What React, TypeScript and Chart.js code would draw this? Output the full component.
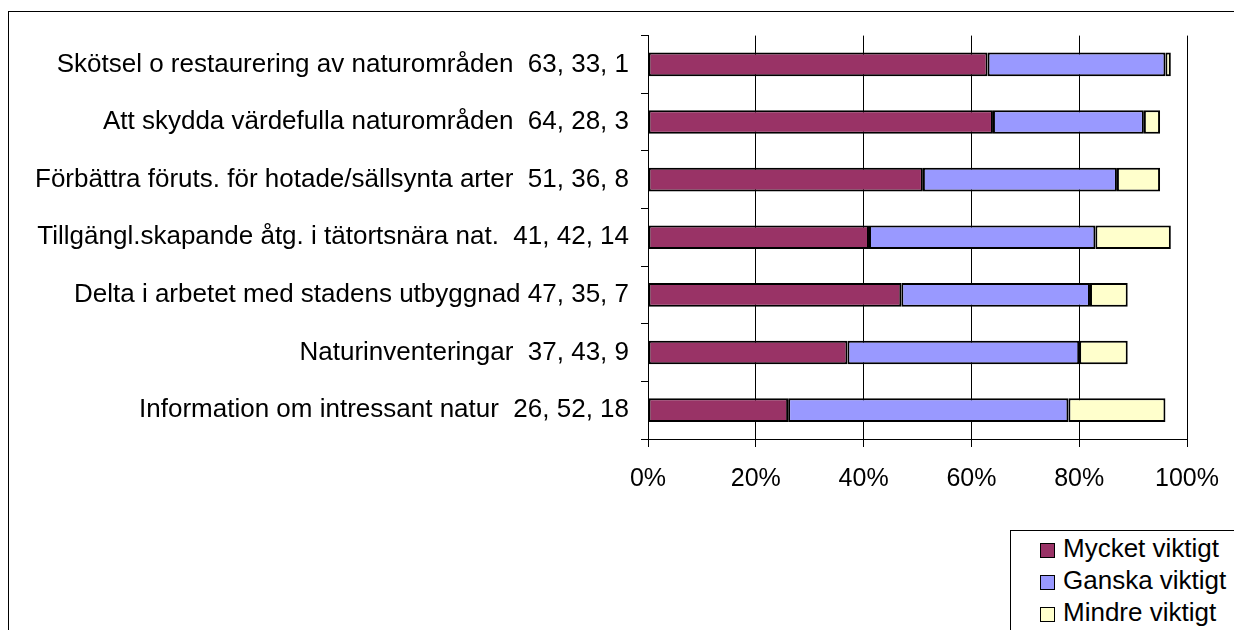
import React, { useEffect, useRef } from "react";
import { Chart, registerables } from "chart.js";

Chart.register(...registerables);

const categories = [
  "Skötsel o restaurering av naturområden  63, 33, 1",
  "Att skydda värdefulla naturområden  64, 28, 3",
  "Förbättra föruts. för hotade/sällsynta arter  51, 36, 8",
  "Tillgängl.skapande åtg. i tätortsnära nat.  41, 42, 14",
  "Delta i arbetet med stadens utbyggnad 47, 35, 7",
  "Naturinventeringar  37, 43, 9",
  "Information om intressant natur  26, 52, 18",
];
const mycketViktigt = [63, 64, 51, 41, 47, 37, 26];
const ganskaViktigt = [33, 28, 36, 42, 35, 43, 52];
const mindreViktigt = [1, 3, 8, 14, 7, 9, 18];
const seriesNames = ["Mycket viktigt", "Ganska viktigt", "Mindre viktigt"];
const seriesColors = ["#993366", "#9999FF", "#FFFFCC"];

const FONT = "'Liberation Sans', Arial, sans-serif";

export default function App() {
  const ref = useRef<HTMLCanvasElement | null>(null);

  useEffect(() => {
    document.body.style.overflow = "hidden";
    const canvas = ref.current;
    if (!canvas) return;
    const values = [mycketViktigt, ganskaViktigt, mindreViktigt];
    const chart = new Chart(canvas, {
      type: "bar",
      data: {
        labels: categories,
        datasets: values.map((v, i) => ({
          label: seriesNames[i],
          data: v,
          backgroundColor: seriesColors[i],
          borderColor: "#000000",
          borderWidth: 2,
          borderSkipped: false,
          barPercentage: 1,
          categoryPercentage: 0.41,
        })),
      },
      options: {
        indexAxis: "y",
        responsive: false,
        animation: false,
        layout: { padding: { top: 24, right: 55, left: 0, bottom: 0 } },
        plugins: { legend: { display: false }, tooltip: { enabled: false } },
        scales: {
          x: {
            stacked: true,
            min: 0,
            max: 100,
            ticks: {
              stepSize: 20,
              callback: (v: any) => v + "%",
              color: "#000",
              font: { family: FONT, size: 25 },
              padding: 17,
              maxRotation: 0,
            },
            grid: { color: "#000", lineWidth: 1, drawTicks: true, tickLength: 8 },
            border: { display: true, color: "#000", width: 1 },
            afterFit: (s: any) => {
              s.height = 191;
            },
          },
          y: {
            stacked: true,
            ticks: {
              color: "#000",
              font: { family: FONT, size: 26 },
              padding: 12,
            },
            grid: {
              display: true,
              drawOnChartArea: false,
              drawTicks: true,
              tickLength: 7,
              offset: true,
              color: "#000",
            },
            border: { display: true, color: "#000", width: 1 },
            afterFit: (s: any) => {
              s.width = 640;
            },
          },
        },
      },
    });
    return () => chart.destroy();
  }, []);

  return (
    <div style={{ position: "relative", width: 1234, height: 622, overflow: "hidden" }}>
      <div
        style={{
          position: "absolute",
          left: 0,
          top: 3,
          width: 1400,
          height: 800,
          border: "1px solid #000",
          boxSizing: "border-box",
        }}
      />
      <canvas ref={ref} width={1234} height={622} style={{ position: "absolute", left: 0, top: 0 }} />
      <div
        style={{
          position: "absolute",
          left: 1002,
          top: 522,
          width: 400,
          height: 300,
          border: "1px solid #000",
          background: "#fff",
          fontFamily: FONT,
          fontSize: 26,
          lineHeight: "30px",
          color: "#000",
        }}
      >
        {seriesNames.map((n, i) => (
          <div
            key={n}
            style={{
              position: "absolute",
              left: 0,
              top: 2 + i * 32,
              height: 30,
              width: 300,
              whiteSpace: "nowrap",
            }}
          >
            <span
              style={{
                position: "absolute",
                left: 29,
                top: 10,
                width: 13,
                height: 13,
                background: seriesColors[i],
                border: "1px solid #000",
              }}
            />
            <span style={{ position: "absolute", left: 52, top: 0 }}>{n}</span>
          </div>
        ))}
      </div>
    </div>
  );
}
